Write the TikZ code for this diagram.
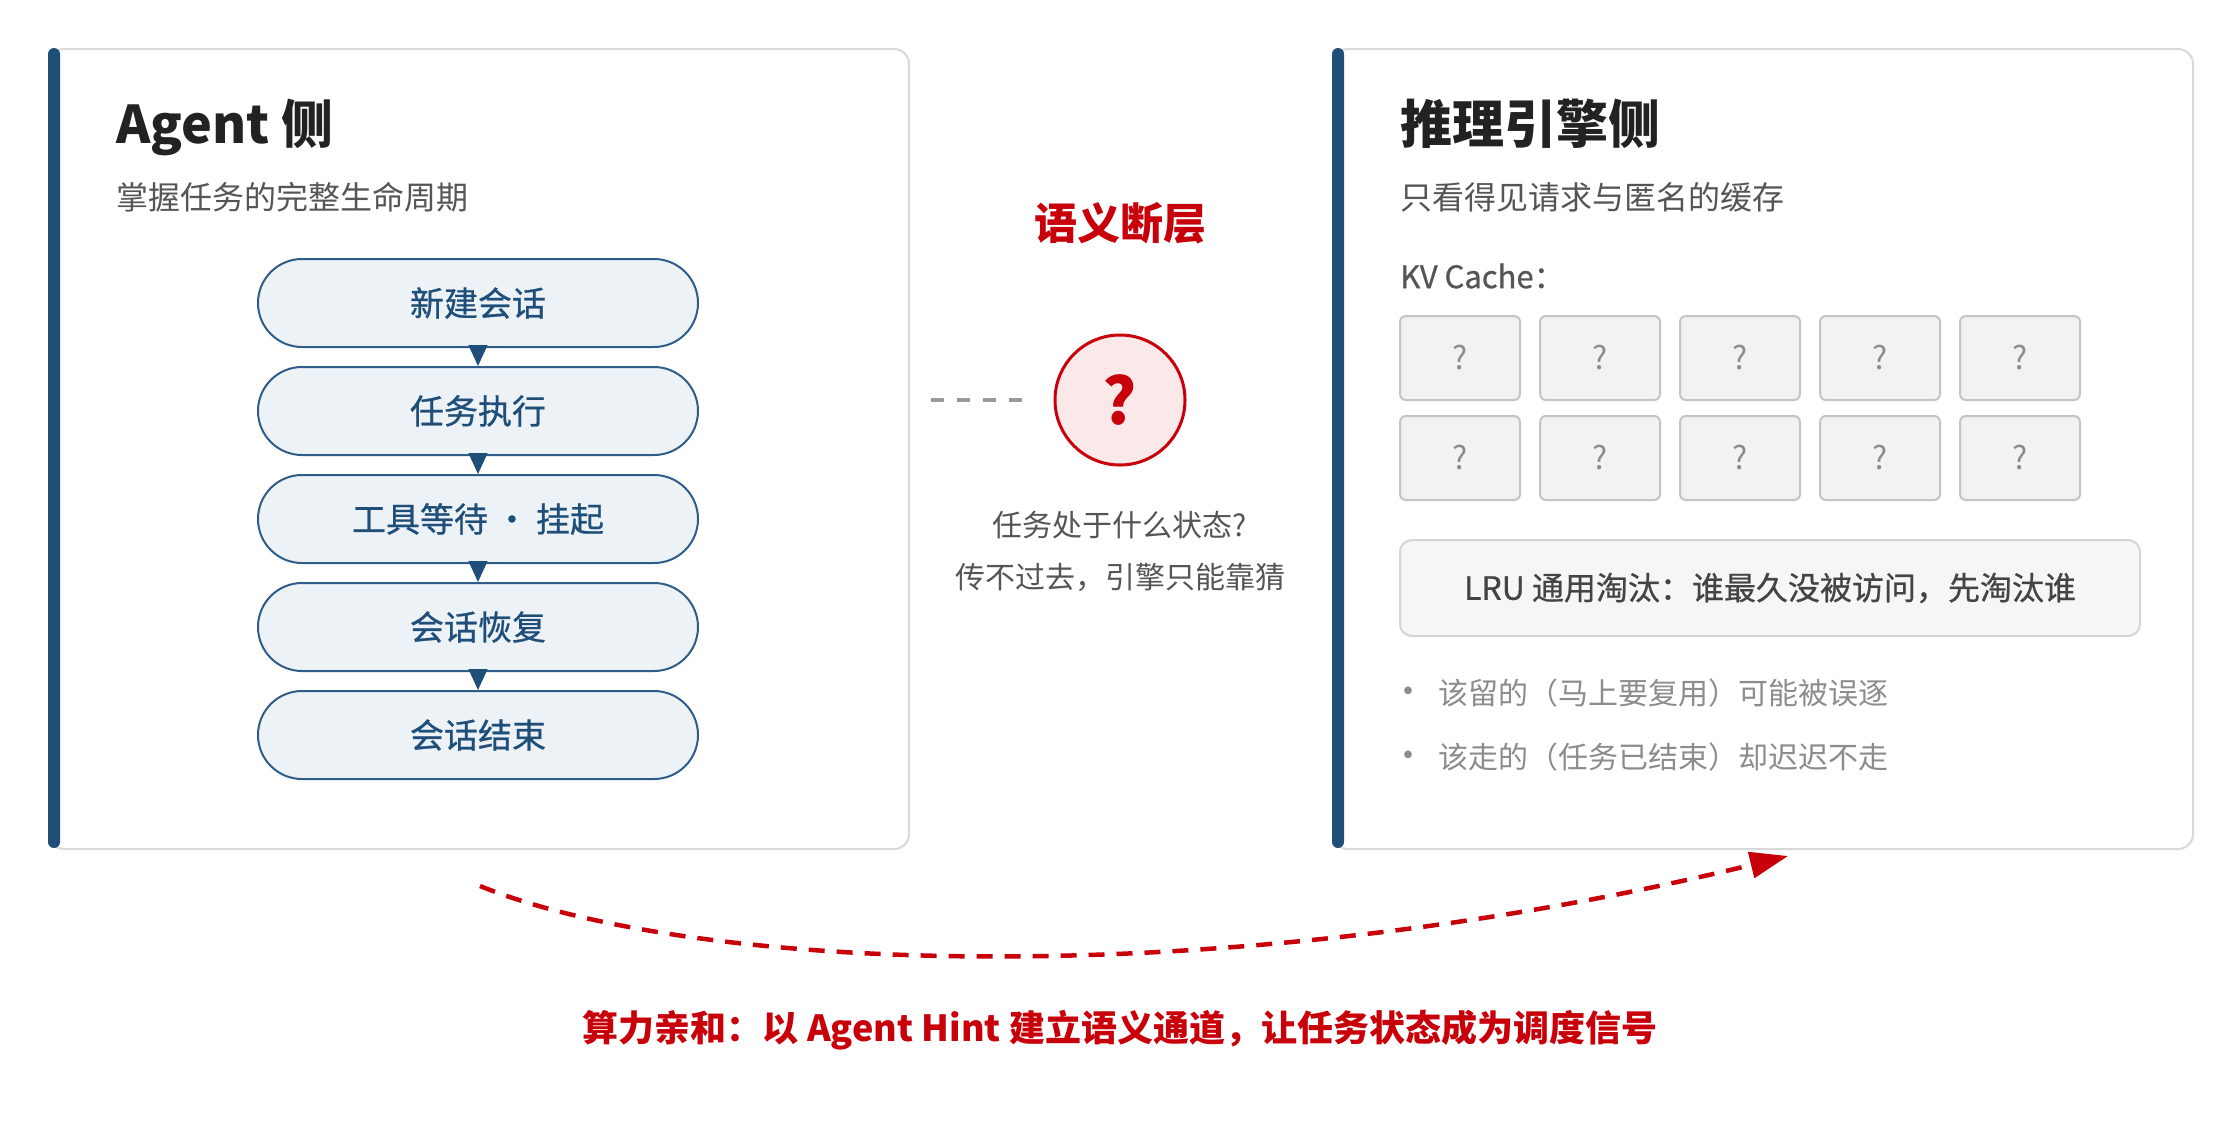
\documentclass[tikz,border=0pt]{standalone}
\usepackage{fontspec}
\setmainfont{Noto Sans CJK SC}
\newfontfamily\medfont{Noto Sans CJK SC}[FakeBold=0.7]
\usetikzlibrary{arrows.meta,shapes.misc}
\definecolor{barblue}{HTML}{1F4E79}
\definecolor{stadline}{HTML}{2F5D8A}
\definecolor{stadfill}{HTML}{EDF2F7}
\definecolor{panelline}{HTML}{D9D9D9}
\definecolor{titlecol}{HTML}{222222}
\definecolor{subcol}{HTML}{555555}
\definecolor{redcol}{HTML}{C8000A}
\definecolor{qfill}{HTML}{FBE9EA}
\definecolor{cellfill}{HTML}{F2F2F2}
\definecolor{cellline}{HTML}{C4C4C4}
\definecolor{qgray}{HTML}{8C8C8C}
\definecolor{lrufill}{HTML}{F6F6F6}
\definecolor{lruline}{HTML}{D4D4D4}
\definecolor{lrutext}{HTML}{444444}
\definecolor{dashgray}{HTML}{999999}
\newcommand\myfs[1]{\fontsize{#1pt}{#1pt}\selectfont}
\begin{document}
\begin{tikzpicture}[x=1pt,y=-1pt,
  panel/.style={draw=panelline, line width=2pt, fill=white, rounded corners=15pt,
    minimum width=860pt, minimum height=800pt, anchor=north west, inner sep=0pt},
  sidebar/.style={fill=barblue, rounded corners=6pt},
  title/.style={anchor=base west, text=titlecol, font=\myfs{52}\bfseries, inner sep=0pt},
  subtitle/.style={anchor=west, text=subcol, font=\myfs{32}, inner sep=0pt},
  stadium/.style={draw=stadline, line width=2pt, fill=stadfill, rounded rectangle,
    minimum width=440pt, minimum height=88pt, text=barblue, font=\medfont\myfs{34}, inner sep=0pt},
  flowarrow/.style={draw=barblue, line width=1pt, -{Triangle[length=21pt,width=19pt]}},
  cell/.style={draw=cellline, line width=2pt, fill=cellfill, rounded corners=6pt,
    minimum width=120pt, minimum height=84pt, inner sep=0pt, text=qgray, font=\myfs{32}},
  graytext/.style={text=subcol, font=\myfs{30}, inner sep=0pt},
  bullettext/.style={anchor=west, text=qgray, font=\myfs{30}, inner sep=0pt},
  redtitle/.style={text=redcol, font=\myfs{43}\bfseries, inner sep=0pt},
  arcline/.style={draw=redcol, line width=4.5pt, dash pattern=on 16pt off 12pt,
    -{Triangle[length=38pt,width=26pt]}}
]
\useasboundingbox (0,0) rectangle (2240,1120);
\fill[white] (0,0) rectangle (2240,1120);

% ---------- left panel ----------
\node[panel] (lp) at (48,48) {};
\fill[sidebar] (48,48) rectangle (60,848);
\node[title] (lt) at (116,143) {Agent 侧};
\node[subtitle] (ls) at (116,197) {掌握任务的完整生命周期};

\node[stadium] (s1) at (478,303) {新建会话};
\node[stadium] (s2) at (478,411) {任务执行};
\node[stadium] (s3) at (478,519) {工具等待\hspace{7pt}\makebox[34pt]{·}\hspace{7pt}挂起};
\node[stadium] (s4) at (478,627) {会话恢复};
\node[stadium] (s5) at (478,735) {会话结束};
\draw[flowarrow] (s1) -- (s2);
\draw[flowarrow] (s2) -- (s3);
\draw[flowarrow] (s3) -- (s4);
\draw[flowarrow] (s4) -- (s5);

% ---------- middle ----------
\node[redtitle] (gap) at (1120,223) {语义断层};
\node[circle, draw=redcol, line width=3pt, fill=qfill, minimum size=130pt, inner sep=0pt,
  text=redcol, font=\myfs{64}\bfseries] (q) at (1120,400) {?};
\coordinate (dl) at (931,400);
\draw[dashgray, line width=3.5pt, dash pattern=on 13pt off 13pt] (dl) -- ([xshift=-31pt]q.west);
\node[graytext] (m1) at (1120,525) {任务处于什么状态?};
\node[graytext] (m2) at (1120,577) {传不过去，引擎只能靠猜};

% ---------- right panel ----------
\node[panel] (rp) at (1332,48) {};
\fill[sidebar] (1332,48) rectangle (1344,848);
\node[title] (rt) at (1400,143) {推理引擎侧};
\node[subtitle] (rs) at (1400,197) {只看得见请求与匿名的缓存};
\node[subtitle, font=\medfont\myfs{31}] (kv) at (1400,276) {KV Cache：};

\foreach \r in {0,1}{
  \foreach \c in {0,...,4}{
    \node[cell] (c\r\c) at ({1460+140*\c},{358+100*\r}) {?};
  }
}

\node[draw=lruline, line width=2pt, fill=lrufill, rounded corners=12pt,
  minimum width=740pt, minimum height=96pt, inner sep=0pt,
  text=lrutext, font=\medfont\myfs{32}] (lru) at (1770,588) {LRU 通用淘汰：谁最久没被访问，先淘汰谁};

\node[bullettext] (b1) at (1438,693) {\llap{\myfs{36}•\hspace{12pt}}该留的（马上要复用）可能被误逐};
\node[bullettext] (b2) at (1438,757) {\llap{\myfs{36}•\hspace{12pt}}该走的（任务已结束）却迟迟不走};

% ---------- bottom ----------
\coordinate (arcS) at (480,886);
\coordinate (arcE) at (1788,856);
\draw[arcline] (arcS) .. controls (700,975) and (1230,992) .. (arcE);
\node[text=redcol, font=\myfs{36}\bfseries, inner sep=0pt] (bt) at (1120,1030)
  {算力亲和：以 Agent Hint 建立语义通道，让任务状态成为调度信号};
\end{tikzpicture}
\end{document}
